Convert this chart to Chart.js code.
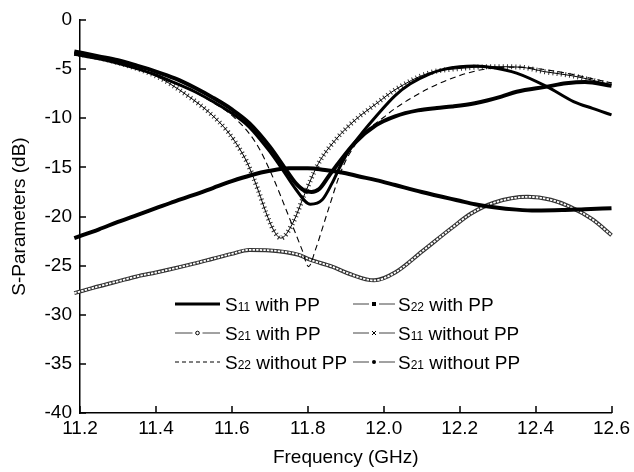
<!DOCTYPE html>
<html>
<head>
<meta charset="utf-8">
<script src="https://cdn.jsdelivr.net/npm/chart.js@4/dist/chart.umd.min.js"></script>
<style>
  html, body { margin: 0; padding: 0; background: #fff; }
  #wrap { width: 634px; height: 472px; }
</style>
</head>
<body>
<div id="wrap"><canvas id="c" width="634" height="472"></canvas></div>
<script>
// ---- data (frequency in GHz, S-parameters in dB) ----
const xTicks = [11.2, 11.4, 11.6, 11.8, 12.0, 12.2, 12.4, 12.6];
const yTicks = [0, -5, -10, -15, -20, -25, -30, -35, -40];

const freqS11PP = [11.185,11.25,11.30,11.35,11.40,11.45,11.50,11.55,11.60,11.646,11.698,11.733,11.768,11.807,11.838,11.864,11.889,11.915,11.945,11.98,12.03,12.07,12.12,12.16,12.2,12.24,12.29,12.35,12.43,12.5,12.55,12.6];
const s11PP     = [-3.5,-3.95,-4.4,-4.95,-5.6,-6.4,-7.25,-8.3,-9.5,-10.9,-13.3,-15.2,-17.2,-18.75,-18.3,-16.6,-14.6,-12.9,-11.4,-9.8,-7.7,-6.5,-5.5,-5.0,-4.75,-4.68,-4.85,-5.4,-6.78,-8.3,-9.0,-9.66];

const freqS22PP = [11.185,11.25,11.30,11.35,11.40,11.45,11.50,11.55,11.60,11.646,11.70,11.74,11.768,11.793,11.81,11.83,11.855,11.88,11.924,11.98,12.03,12.09,12.14,12.18,12.24,12.31,12.35,12.43,12.48,12.53,12.6];
const s22PP     = [-3.2,-3.7,-4.1,-4.65,-5.25,-5.95,-6.85,-7.9,-9.1,-10.5,-12.9,-15.1,-16.6,-17.4,-17.5,-17.2,-15.9,-14.6,-12.5,-10.7,-9.8,-9.2,-8.95,-8.8,-8.47,-7.8,-7.3,-6.78,-6.44,-6.3,-6.7];

const freqS21PP = [11.185,11.25,11.30,11.35,11.40,11.435,11.50,11.55,11.60,11.646,11.70,11.776,11.806,11.864,11.907,11.975,12.03,12.103,12.178,12.23,12.29,12.379,12.44,12.49,12.55,12.6];
const s21PP     = [-27.8,-27.1,-26.6,-26.1,-25.7,-25.4,-24.8,-24.3,-23.8,-23.4,-23.45,-23.9,-24.4,-25.1,-25.8,-26.5,-25.7,-23.5,-21.2,-19.7,-18.6,-18.0,-18.3,-19.0,-20.3,-21.9];

const freqS11noPP = [11.185,11.25,11.30,11.35,11.40,11.435,11.487,11.54,11.59,11.628,11.646,11.67,11.69,11.71,11.729,11.76,11.793,11.828,11.873,11.924,11.982,12.03,12.117,12.204,12.293,12.36,12.424,12.5,12.6];
const s11noPP     = [-3.4,-3.85,-4.35,-4.95,-5.7,-6.44,-7.8,-9.4,-11.4,-13.6,-15.0,-17.4,-19.6,-21.4,-22.2,-20.7,-17.6,-14.6,-12.2,-10.2,-8.47,-7.1,-5.42,-4.92,-4.75,-4.8,-5.26,-5.7,-6.6];

const freqS22noPP = [11.185,11.25,11.30,11.35,11.40,11.45,11.50,11.55,11.60,11.663,11.707,11.75,11.785,11.802,11.82,11.854,11.889,11.93,11.96,12.0,12.03,12.117,12.204,12.275,12.35,12.45,12.6];
const s22noPP     = [-3.45,-3.9,-4.4,-4.95,-5.6,-6.4,-7.3,-8.4,-9.7,-12.5,-15.9,-20.0,-23.4,-25.1,-23.4,-19.3,-15.26,-12.4,-11.1,-9.9,-9.0,-7.0,-5.6,-4.95,-4.8,-5.2,-6.4];

const freqS21noPP = [11.185,11.25,11.30,11.35,11.40,11.45,11.50,11.55,11.60,11.65,11.70,11.75,11.80,11.85,11.90,11.933,11.98,12.03,12.1,12.2,12.24,12.29,12.35,12.40,12.47,12.53,12.6];
const s21noPP     = [-22.2,-21.3,-20.55,-19.85,-19.15,-18.45,-17.8,-17.1,-16.4,-15.8,-15.35,-15.1,-15.1,-15.3,-15.6,-15.9,-16.3,-16.8,-17.5,-18.4,-18.75,-19.05,-19.3,-19.4,-19.35,-19.25,-19.15];

const legendRows = [
  { main: 'S', sub: '11', rest: ' with PP',    kind: 'thick' },
  { main: 'S', sub: '21', rest: ' with PP',    kind: 'circle' },
  { main: 'S', sub: '22', rest: ' without PP', kind: 'dash' },
  { main: 'S', sub: '22', rest: ' with PP',    kind: 'square' },
  { main: 'S', sub: '11', rest: ' without PP', kind: 'cross' },
  { main: 'S', sub: '21', rest: ' without PP', kind: 'dot' }
];

// ---- helpers ----
const FONT = '"Liberation Sans", Arial, Helvetica, sans-serif';
function pts(xs, ys) { return xs.map((x, i) => ({ x: x, y: ys[i] })); }
function line(data, extra) {
  return Object.assign({
    data: data, borderColor: '#000', borderWidth: 1, pointRadius: 0,
    cubicInterpolationMode: 'monotone', fill: false, clip: false
  }, extra);
}

const datasets = [
  line(pts(freqS11PP, s11PP),     { label: 'S11 with PP', borderWidth: 3, order: 1 }),
  line(pts(freqS22PP, s22PP),     { label: 'S22 with PP', borderWidth: 4, order: 2 }),
  line(pts(freqS21noPP, s21noPP), { label: 'S21 without PP', borderWidth: 4, order: 3 }),
  line(pts(freqS22noPP, s22noPP), { label: 'S22 without PP', borderWidth: 1.1, borderDash: [6, 4], order: 4 }),
  line(pts(freqS11noPP, s11noPP), { label: 'S11 without PP', borderWidth: 1, order: 5 }),
  line(pts(freqS11noPP, s11noPP), { label: 'S11 without PP marks', borderWidth: 5, borderColor: '#333', borderDash: [1, 3.2], order: 6 }),
  line(pts(freqS21PP, s21PP),     { label: 'S21 with PP inner', borderWidth: 1.8, borderColor: '#fff', borderDash: [2.4, 1.2], order: 7 }),
  line(pts(freqS21PP, s21PP),     { label: 'S21 with PP', borderWidth: 4, borderColor: '#333', order: 8 })
];

// inward tick marks
const inwardTicks = {
  id: 'inwardTicks',
  afterDraw(chart) {
    const { ctx, chartArea: a, scales: { x, y } } = chart;
    ctx.save();
    ctx.strokeStyle = '#000';
    ctx.lineWidth = 1.5;
    ctx.beginPath();
    yTicks.forEach(v => { const py = Math.round(y.getPixelForValue(v)); ctx.moveTo(a.left, py); ctx.lineTo(a.left + 6, py); });
    xTicks.forEach(v => { const px = Math.round(x.getPixelForValue(v)); ctx.moveTo(px, a.bottom); ctx.lineTo(px, a.bottom - 7); });
    ctx.stroke();
    ctx.restore();
  }
};

// custom legend (line + marker + text with small index digits)
const customLegend = {
  id: 'customLegend',
  afterDraw(chart) {
    const ctx = chart.ctx;
    const cols = [{ x0: 175, x1: 220, tx: 225 }, { x0: 353, x1: 395, tx: 398 }];
    const rowsY = [304, 333, 362];
    ctx.save();
    legendRows.forEach((r, i) => {
      const c = cols[Math.floor(i / 3)];
      const yy = rowsY[i % 3];
      ctx.strokeStyle = '#000';
      ctx.fillStyle = '#000';
      ctx.setLineDash([]);
      const mid = (c.x0 + c.x1) / 2;
      if (r.kind === 'thick') {
        ctx.lineWidth = 3;
        ctx.beginPath(); ctx.moveTo(c.x0, yy); ctx.lineTo(c.x1, yy); ctx.stroke();
      } else if (r.kind === 'dash') {
        ctx.lineWidth = 1;
        ctx.setLineDash([4, 3]);
        ctx.beginPath(); ctx.moveTo(c.x0, yy); ctx.lineTo(c.x1, yy); ctx.stroke();
        ctx.setLineDash([]);
      } else {
        ctx.strokeStyle = '#444';
        ctx.lineWidth = 1;
        ctx.beginPath();
        ctx.moveTo(c.x0, yy); ctx.lineTo(mid - 5, yy);
        ctx.moveTo(mid + 5, yy); ctx.lineTo(c.x1, yy);
        ctx.stroke();
        ctx.strokeStyle = '#000';
        if (r.kind === 'circle') {
          ctx.beginPath(); ctx.arc(mid, yy, 1.8, 0, Math.PI * 2); ctx.stroke();
        } else if (r.kind === 'square') {
          ctx.fillRect(mid - 2, yy - 2, 4, 4);
        } else if (r.kind === 'cross') {
          ctx.beginPath();
          ctx.moveTo(mid - 2, yy - 2); ctx.lineTo(mid + 2, yy + 2);
          ctx.moveTo(mid + 2, yy - 2); ctx.lineTo(mid - 2, yy + 2);
          ctx.stroke();
        } else if (r.kind === 'dot') {
          ctx.beginPath(); ctx.arc(mid, yy, 2, 0, Math.PI * 2); ctx.fill();
        }
      }
      // text
      const base = yy + 7;
      ctx.textBaseline = 'alphabetic';
      ctx.textAlign = 'left';
      let tx = c.tx;
      ctx.font = '19px ' + FONT;
      ctx.fillText(r.main, tx, base); tx += ctx.measureText(r.main).width;
      ctx.font = '12px ' + FONT;
      ctx.fillText(r.sub, tx, base); tx += ctx.measureText(r.sub).width;
      ctx.font = '19px ' + FONT;
      ctx.fillText(r.rest, tx, base);
    });
    ctx.restore();
  }
};

new Chart(document.getElementById('c'), {
  type: 'line',
  data: { datasets: datasets },
  plugins: [inwardTicks, customLegend],
  options: {
    responsive: false,
    animation: false,
    layout: { padding: { left: 0, right: 20, top: 20, bottom: 0 } },
    plugins: { legend: { display: false }, tooltip: { enabled: false } },
    scales: {
      x: {
        type: 'linear', min: 11.2, max: 12.6,
        afterBuildTicks(scale) { scale.ticks = xTicks.map(v => ({ value: v })); },
        afterFit(scale) { scale.height = 59; },
        grid: { display: false, drawTicks: false },
        border: { display: true, color: '#000', width: 1.5 },
        ticks: { padding: 4, color: '#000', font: { family: FONT, size: 19 }, maxRotation: 0, autoSkip: false,
                 callback: v => Number(v).toFixed(1) },
        title: { display: true, text: 'Frequency (GHz)', color: '#000', font: { family: FONT, size: 19 }, padding: { top: 0, bottom: 3 } }
      },
      y: {
        type: 'linear', min: -40, max: 0,
        afterBuildTicks(scale) { scale.ticks = yTicks.map(v => ({ value: v })); },
        afterFit(scale) { scale.width = 80; },
        grid: { display: false, drawTicks: false },
        border: { display: true, color: '#000', width: 1.5 },
        ticks: { padding: 8, color: '#000', font: { family: FONT, size: 19 }, autoSkip: false,
                 callback: v => String(v) },
        title: { display: true, text: 'S-Parameters (dB)', color: '#000', font: { family: FONT, size: 19 }, padding: { top: 8, bottom: 0 } }
      }
    }
  }
});
</script>
</body>
</html>
